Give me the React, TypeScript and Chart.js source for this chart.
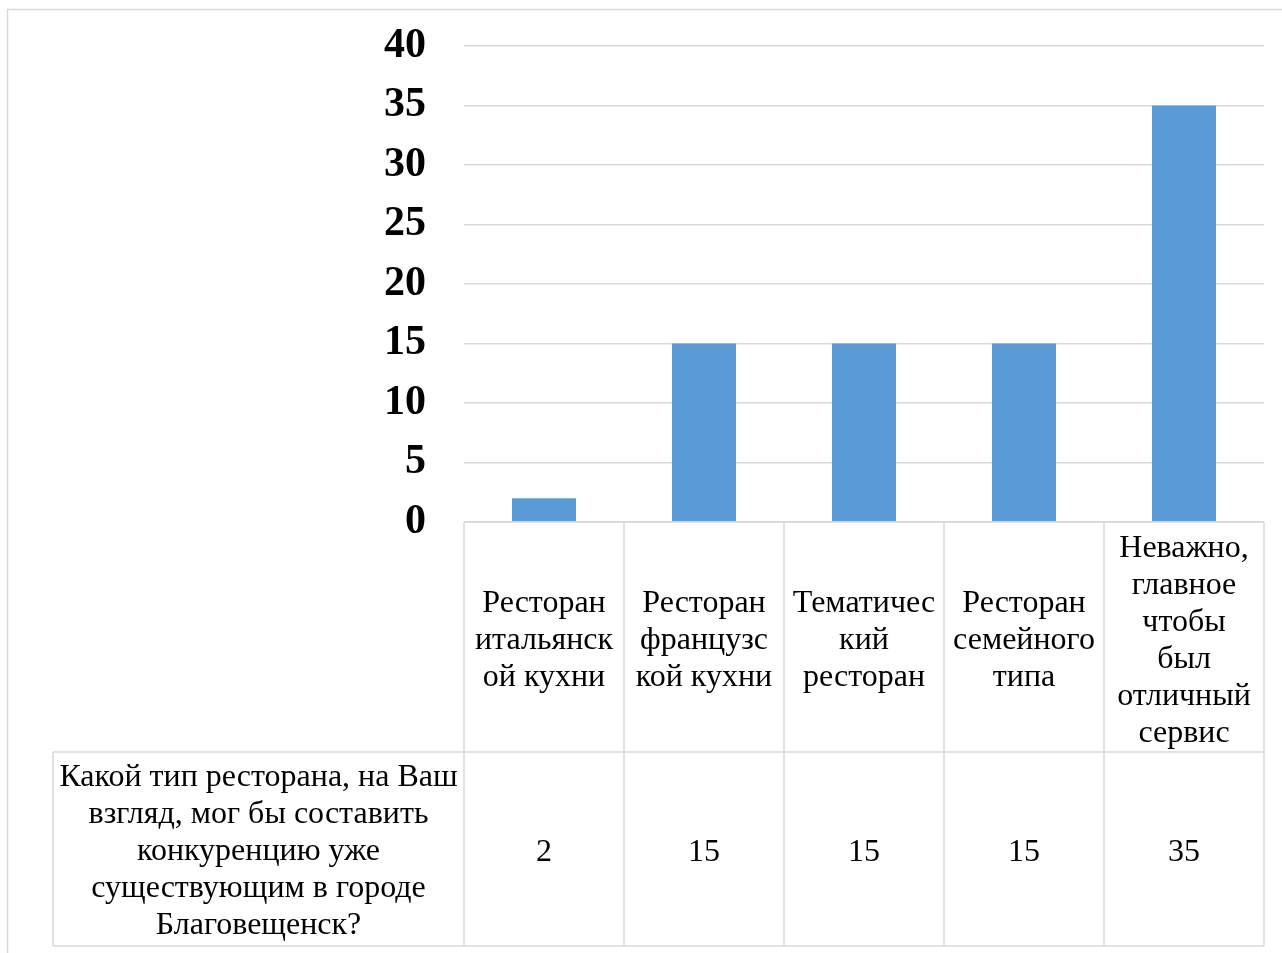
import { useEffect, useRef } from "react";
import { Chart, registerables } from "chart.js";

Chart.register(...registerables);

// Categories, each split into the lines shown in the data table
const categories: string[][] = [
  ["Ресторан", "итальянск", "ой кухни"],
  ["Ресторан", "французс", "кой кухни"],
  ["Тематичес", "кий", "ресторан"],
  ["Ресторан", "семейного", "типа"],
  ["Неважно,", "главное", "чтобы", "был", "отличный", "сервис"],
];

const seriesName: string[] = [
  "Какой тип ресторана, на Ваш",
  "взгляд, мог бы составить",
  "конкуренцию уже",
  "существующим в городе",
  "Благовещенск?",
];

const values: number[] = [2, 15, 15, 15, 35];

const yTicks: number[] = [0, 5, 10, 15, 20, 25, 30, 35, 40];

const W = 1282;
const H = 953;
const GRID = "#d9d9d9";
const BAR = "#5b9bd5";
const SERIF = "'Liberation Serif', 'Times New Roman', serif";
const TABLE_FONT = 32;
const LINE_H = 37;
const CAT_ROW_H = 230;
const VAL_ROW_H = 194;
const HEADER_LEFT = 53;

// Draws the frame and the data table under the plot area
const dataTablePlugin = {
  id: "dataTable",
  afterDraw(chart: Chart) {
    const ctx = chart.ctx;
    const area = chart.chartArea;
    const x = chart.scales.x;
    const n = categories.length;
    const colW = (area.right - area.left) / n;
    const top = area.bottom;
    const mid = top + CAT_ROW_H;
    const bottom = mid + VAL_ROW_H;

    ctx.save();
    ctx.strokeStyle = GRID;
    ctx.lineWidth = 1.5;

    // outer chart frame
    ctx.strokeRect(7.5, 9.5, W + 20, H + 20);

    // horizontal table lines
    ctx.beginPath();
    ctx.moveTo(area.left, top);
    ctx.lineTo(area.right, top);
    ctx.moveTo(HEADER_LEFT, mid);
    ctx.lineTo(area.right, mid);
    ctx.moveTo(HEADER_LEFT, bottom);
    ctx.lineTo(area.right, bottom);
    // header cell left edge
    ctx.moveTo(HEADER_LEFT, mid);
    ctx.lineTo(HEADER_LEFT, bottom);
    // column separators
    for (let i = 0; i <= n; i++) {
      const cx =
        i < n ? x.getPixelForValue(i) - colW / 2 : x.getPixelForValue(n - 1) + colW / 2;
      ctx.moveTo(cx, top);
      ctx.lineTo(cx, bottom);
    }
    ctx.stroke();

    ctx.fillStyle = "#000";
    ctx.font = `${TABLE_FONT}px ${SERIF}`;
    ctx.textAlign = "center";
    ctx.textBaseline = "middle";

    const drawLines = (lines: string[], cx: number, cy: number) => {
      const start = cy - ((lines.length - 1) * LINE_H) / 2;
      lines.forEach((ln, k) => ctx.fillText(ln, cx, start + k * LINE_H));
    };

    categories.forEach((lines, i) => {
      const cx = x.getPixelForValue(i);
      drawLines(lines, cx, (top + mid) / 2 + 4);
      drawLines([String(values[i])], cx, (mid + bottom) / 2 + 4);
    });

    drawLines(seriesName, (HEADER_LEFT + area.left) / 2, (mid + bottom) / 2 + 3);
    ctx.restore();
  },
};

export default function App() {
  const ref = useRef<HTMLCanvasElement>(null);

  useEffect(() => {
    if (!ref.current) return;
    const chart = new Chart(ref.current, {
      type: "bar",
      data: {
        labels: categories.map((c) => c.join(" ")),
        datasets: [
          {
            label: seriesName.join(" "),
            data: values,
            backgroundColor: BAR,
            borderWidth: 0,
            categoryPercentage: 1,
            barPercentage: 0.4,
          },
        ],
      },
      options: {
        responsive: false,
        maintainAspectRatio: false,
        animation: false,
        layout: { padding: { left: 0, top: 46, right: 18, bottom: 431 } },
        plugins: {
          legend: { display: false },
          tooltip: { enabled: false },
        },
        scales: {
          x: { display: false },
          y: {
            min: 0,
            max: 40,
            afterFit(scale: any) {
              scale.width = 464;
            },
            afterBuildTicks(scale: any) {
              scale.ticks = yTicks.map((v) => ({ value: v }));
            },
            border: { display: false },
            grid: {
              color: GRID,
              lineWidth: 1.5,
              drawTicks: true,
              tickLength: 38,
              tickColor: "rgba(0,0,0,0)",
            },
            ticks: {
              padding: 0,
              color: "#000",
              font: { family: SERIF, size: 42, weight: "bold" },
            },
          },
        },
      },
      plugins: [dataTablePlugin],
    });
    return () => chart.destroy();
  }, []);

  return (
    <div style={{ position: "absolute", left: 0, top: 0, width: W, height: H, background: "#fff" }}>
      <canvas ref={ref} width={W} height={H} style={{ display: "block" }} />
    </div>
  );
}
